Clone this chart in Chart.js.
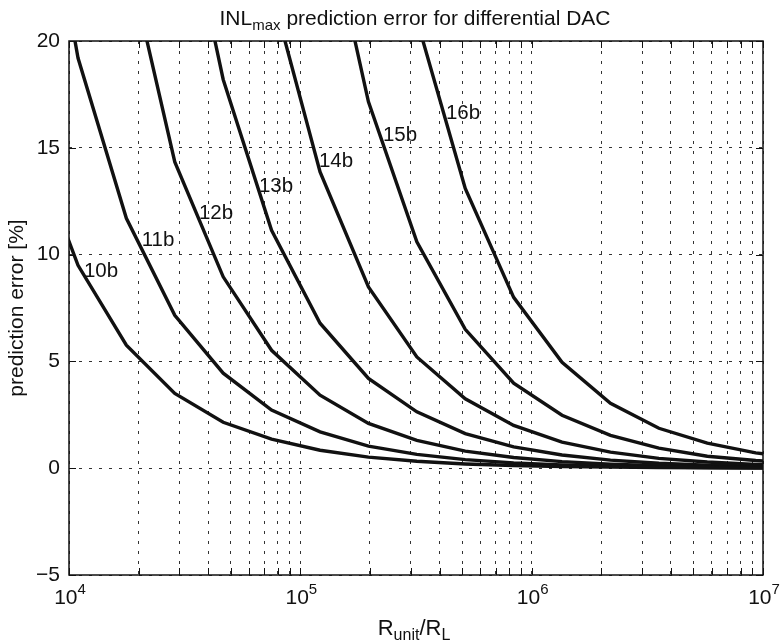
<!DOCTYPE html>
<html>
<head>
<meta charset="utf-8">
<script src="https://cdn.jsdelivr.net/npm/chart.js"></script>
<style>
  html, body { margin: 0; padding: 0; background: #fff; }
</style>
</head>
<body>
<canvas id="chartInl" width="783" height="642"></canvas>
<script>
// R_unit / R_L sample points (shared by all curves)
const xValues = [6760, 10940, 17700, 28660, 46400, 75100, 121700, 197000, 318900, 516300, 835900, 1353000, 2191000, 3548000, 5744000, 9300000, 15060000];

// prediction error [%] per resolution
const err10b = [15.5, 9.5, 5.76, 3.5, 2.15, 1.36, 0.84, 0.52, 0.325, 0.2, 0.125, 0.077, 0.048, 0.029, 0.018, 0.011, 0.007];
const err11b = [32, 19.2, 11.7, 7.16, 4.45, 2.72, 1.7, 1.03, 0.65, 0.4, 0.25, 0.155, 0.095, 0.058, 0.036, 0.022, 0.014];
const err12b = [null, 38, 24.2, 14.34, 8.96, 5.52, 3.42, 2.1, 1.3, 0.8, 0.5, 0.31, 0.19, 0.117, 0.072, 0.045, 0.028];
const err13b = [null, null, 46, 28.8, 18.2, 11.14, 6.79, 4.2, 2.64, 1.62, 1.0, 0.62, 0.38, 0.234, 0.145, 0.09, 0.056];
const err14b = [null, null, null, 57, 35.5, 22.35, 13.87, 8.49, 5.21, 3.25, 2.0, 1.22, 0.75, 0.46, 0.29, 0.18, 0.11];
const err15b = [null, null, null, null, 71, 44, 27.4, 17.15, 10.6, 6.5, 3.98, 2.48, 1.54, 0.94, 0.56, 0.36, 0.22];
const err16b = [null, null, null, null, null, 88, 54, 33.5, 21.0, 13.1, 8.0, 4.96, 3.04, 1.87, 1.17, 0.72, 0.45];

// curve labels, placed in data coordinates
const bitLabels = ['10b', '11b', '12b', '13b', '14b', '15b', '16b'];
const labelX = [13750, 24250, 43200, 78500, 142700, 269800, 505000];
const labelY = [9.22, 10.67, 11.94, 13.2, 14.37, 15.59, 16.62];

// axis ticks
const yTicks = [-5, 0, 5, 10, 15, 20];
const xDecades = [1e4, 1e5, 1e6, 1e7];
const xGridTicks = [];
[1e4, 1e5, 1e6].forEach(d => { for (let m = 1; m < 10; m++) xGridTicks.push(d * m); });
xGridTicks.push(1e7);

const FONT = "'Liberation Sans', Arial, Helvetica, sans-serif";

const series = [err10b, err11b, err12b, err13b, err14b, err15b, err16b];
const datasets = series.map((s, i) => ({
  label: bitLabels[i],
  data: xValues.map((x, j) => ({ x: x, y: s[j] })),
  borderColor: '#111',
  borderWidth: 3.4,
  pointRadius: 0,
  tension: 0,
  clip: 0,
  spanGaps: false
}));

// draws a string made of [text, size, dy] pieces, centred at cx
function drawRich(ctx, parts, cx, baseY) {
  let total = 0;
  parts.forEach(p => { ctx.font = p[1] + 'px ' + FONT; total += ctx.measureText(p[0]).width; });
  let x = cx - total / 2;
  parts.forEach(p => {
    ctx.font = p[1] + 'px ' + FONT;
    ctx.fillText(p[0], x, baseY + p[2]);
    x += ctx.measureText(p[0]).width;
  });
}

const decorPlugin = {
  id: 'decor',
  afterDatasetsDraw(chart) {
    const ctx = chart.ctx;
    const a = chart.chartArea;
    const xs = chart.scales.x, ys = chart.scales.y;
    ctx.save();
    ctx.fillStyle = '#111';
    ctx.strokeStyle = '#111';

    // curve labels
    ctx.font = '20.5px ' + FONT;
    ctx.textAlign = 'center';
    ctx.textBaseline = 'middle';
    bitLabels.forEach((t, i) => {
      ctx.fillText(t, xs.getPixelForValue(labelX[i]), ys.getPixelForValue(labelY[i]));
    });

    // box + inward ticks
    ctx.lineWidth = 1.5;
    ctx.strokeRect(a.left, a.top, a.right - a.left, a.bottom - a.top);
    ctx.lineWidth = 1;
    ctx.beginPath();
    yTicks.forEach(v => {
      const y = Math.round(ys.getPixelForValue(v)) + 0.5;
      ctx.moveTo(a.left, y); ctx.lineTo(a.left + 7, y);
      ctx.moveTo(a.right, y); ctx.lineTo(a.right - 7, y);
    });
    xGridTicks.forEach(v => {
      const x = Math.round(xs.getPixelForValue(v)) + 0.5;
      ctx.moveTo(x, a.bottom); ctx.lineTo(x, a.bottom - 7);
      ctx.moveTo(x, a.top); ctx.lineTo(x, a.top + 7);
    });
    ctx.stroke();

    // x tick labels 10^n
    ctx.textAlign = 'left';
    ctx.textBaseline = 'alphabetic';
    xDecades.forEach(v => {
      const n = Math.round(Math.log10(v));
      drawRich(ctx, [['10', 21, 0], [String(n), 15, -10]], xs.getPixelForValue(v) + 1, 604);
    });

    // x axis title
    drawRich(ctx, [['R', 22, 0], ['unit', 16, 5], ['/R', 22, 0], ['L', 16, 5]], 414, 635);

    // chart title
    drawRich(ctx, [['INL', 21, 0], ['max', 15, 5], [' prediction error for differential DAC', 21, 0]], 415, 25);
    ctx.restore();
  }
};

new Chart(document.getElementById('chartInl'), {
  type: 'line',
  data: { datasets: datasets },
  options: {
    responsive: false,
    animation: false,
    devicePixelRatio: 1,
    layout: { padding: { left: 0, right: 20, top: 41, bottom: 0 } },
    plugins: {
      legend: { display: false },
      tooltip: { enabled: false }
    },
    scales: {
      x: {
        type: 'logarithmic',
        min: 1e4,
        max: 1e7,
        afterBuildTicks: s => { s.ticks = xGridTicks.map(v => ({ value: v })); },
        afterFit: s => { s.height = 67; },
        ticks: { display: false, autoSkip: false },
        grid: { color: '#333', lineWidth: 1, drawTicks: false },
        border: { display: false, dash: [3, 7] }
      },
      y: {
        type: 'linear',
        min: -5,
        max: 20,
        afterFit: s => { s.width = 69; },
        ticks: {
          stepSize: 5,
          padding: 9,
          color: '#111',
          font: { family: FONT, size: 21 },
          callback: v => (v < 0 ? '\u2212' + Math.abs(v) : String(v))
        },
        grid: { color: '#333', lineWidth: 1, drawTicks: false },
        border: { display: false, dash: [3, 7] },
        title: {
          display: true,
          text: 'prediction error [%]',
          color: '#111',
          font: { family: FONT, size: 21 },
          padding: { top: 5, bottom: 0 }
        }
      }
    }
  },
  plugins: [decorPlugin]
});
</script>
</body>
</html>
